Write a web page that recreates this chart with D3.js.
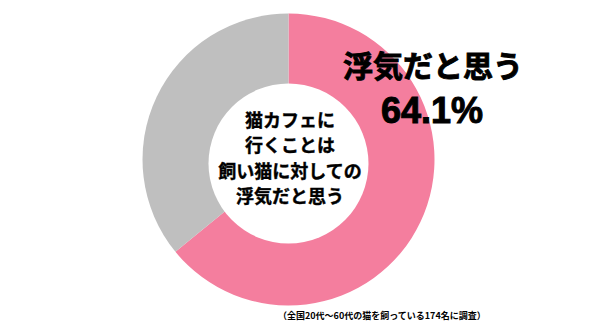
<!DOCTYPE html>
<html><head><meta charset="utf-8">
<script src="https://cdn.jsdelivr.net/npm/d3@7"></script>
<style>
html,body{margin:0;padding:0;background:#fff;}
svg{display:block;font-family:"Noto Sans CJK JP",sans-serif;}
</style></head><body>
<svg id="c" width="600" height="323"></svg>
<script>
const categories = ["浮気だと思う", "浮気だと思わない"];
const values = [64.1, 35.9];
const colors = ["#F47E9E", "#BFBFBF"];
const centerLines = ["猫カフェに", "行くことは", "飼い猫に対しての", "浮気だと思う"];
const labelName = "浮気だと思う";
const labelValue = "64.1%";
const footnote = "（全国20代～60代の猫を飼っている174名に調査）";

const svg = d3.select("#c");
const cx = 288.5, cy = 159.5, R = 146;
const pie = d3.pie().sort(null).value(d => d)(values);
const arc = d3.arc().innerRadius(0).outerRadius(R);
const g = svg.append("g").attr("transform", `translate(${cx},${cy})`);
g.selectAll("path").data(pie).join("path")
  .attr("d", arc).attr("fill", (d, i) => colors[i]);
g.append("circle").attr("cx", 0).attr("cy", 4).attr("r", 80).attr("fill", "#fff");

const ct = svg.append("g").attr("font-weight", "bold").attr("font-size", 18).attr("text-anchor", "middle")
  .attr("stroke", "#000").attr("stroke-width", 0.4);
ct.selectAll("text").data(centerLines).join("text")
  .attr("x", 290).attr("y", (d, i) => 119 + i * 25.3)
  .attr("dominant-baseline", "central").text(d => d);

svg.append("text").attr("x", 433).attr("y", 64).attr("text-anchor", "middle")
  .attr("dominant-baseline", "central").attr("font-weight", "bold").attr("font-size", 30)
  .attr("stroke", "#000").attr("stroke-width", 0.9)
  .text(labelName);
svg.append("text").attr("x", 432).attr("y", 123).attr("text-anchor", "middle")
  .attr("font-family", "Liberation Sans, Arial, sans-serif")
  .attr("font-weight", "bold").attr("font-size", 36)
  .attr("stroke", "#000").attr("stroke-width", 1)
  .text(labelValue);

svg.append("text").attr("x", 278).attr("y", 315).attr("dominant-baseline", "central")
  .attr("font-weight", "bold").attr("font-size", 9).text(footnote);
</script></body></html>
